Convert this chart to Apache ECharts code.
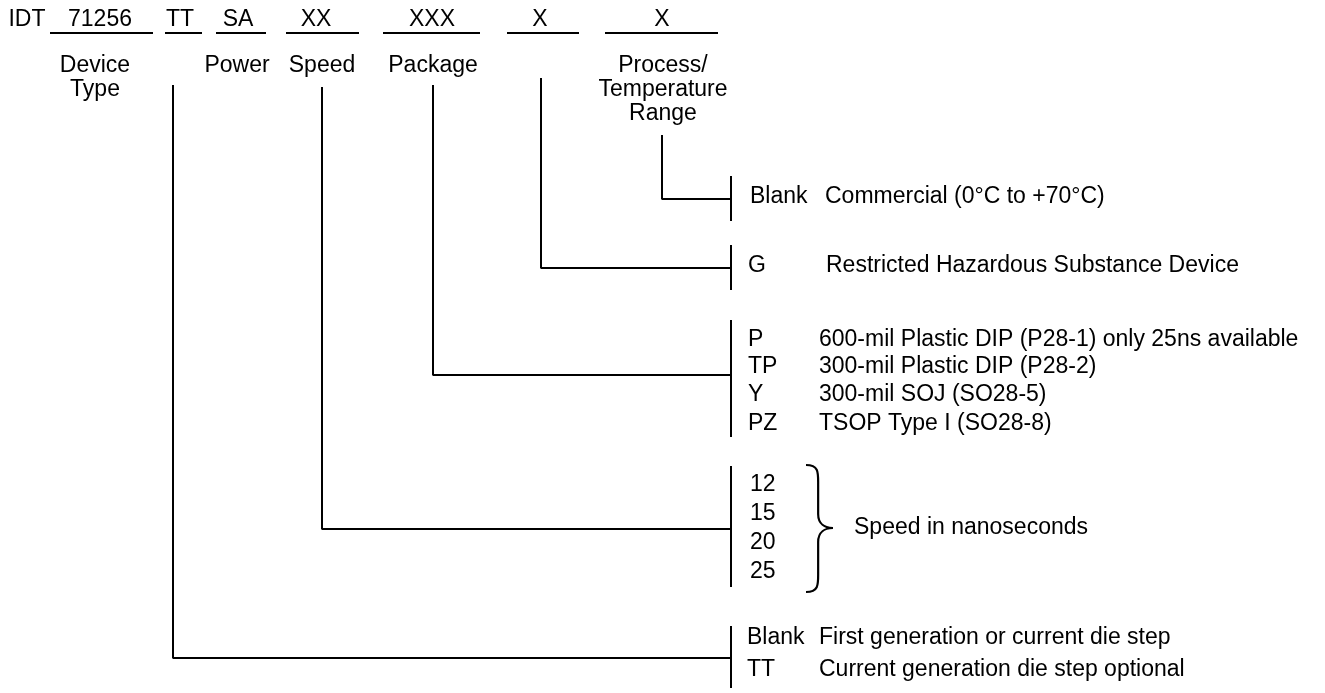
<!DOCTYPE html>
<html>
<head>
<meta charset="utf-8">
<title>IDT71256 ordering information</title>
<script src="https://cdn.jsdelivr.net/npm/echarts@6/dist/echarts.min.js"></script>
<style>
  html, body { margin: 0; padding: 0; background: #fff; }
  #chart { width: 1325px; height: 693px; }
</style>
</head>
<body>
<div id="chart"></div>
<script>
// part number fields across the top
const codeTexts = ['IDT', '71256', 'TT', 'SA', 'XX', 'XXX', 'X', 'X']
const codeX = [27, 100, 180, 238, 316, 432, 540, 662]
const codeY = 20
const underlines = [[50, 153], [165, 202], [216, 266], [286, 359], [383, 480], [507, 579], [605, 718]]
const underlineY = 33

// field names under the part number (one entry per text line)
const fieldNames = [['Device', 'Type'], ['Power'], ['Speed'], ['Package'], ['Process/', 'Temperature', 'Range']]
const fieldNameX = [95, 237, 322, 433, 663]
const fieldNameY = [66, 90, 114]

// connectors (field -> option bar)
const connectors = [
  [[173, 85], [173, 658], [731, 658]],
  [[322, 87], [322, 529], [731, 529]],
  [[433, 85], [433, 375], [731, 375]],
  [[541, 78], [541, 268], [731, 268]],
  [[662, 135], [662, 199], [731, 199]]
]
const barX = 731
const bars = [[176, 221], [245, 290], [320, 437], [466, 587], [626, 688]]

// option lists
const tempCodes = ['Blank']
const tempDesc = ['Commercial (0°C to +70°C)']
const tempY = [197]

const rohsCodes = ['G']
const rohsDesc = ['Restricted Hazardous Substance Device']
const rohsY = [266]

const pkgCodes = ['P', 'TP', 'Y', 'PZ']
const pkgDesc = ['600-mil Plastic DIP (P28-1) only 25ns available', '300-mil Plastic DIP (P28-2)', '300-mil SOJ (SO28-5)', 'TSOP Type I (SO28-8)']
const pkgY = [340, 367, 395, 424]

const speedCodes = ['12', '15', '20', '25']
const speedY = [485, 514, 543, 572]
const speedNote = 'Speed in nanoseconds'
const brace = { left: 806, right: 833, top: 465, bottom: 592, mid: 528 }

const dieCodes = ['Blank', 'TT']
const dieDesc = ['First generation or current die step', 'Current generation die step optional']
const dieY = [638, 670]

const FONT = '23px "Liberation Sans", Arial, Helvetica, sans-serif'

// text rows: [x, y, text, align]
const texts = []
codeTexts.forEach((t, i) => texts.push([codeX[i], codeY, t, 'center']))
fieldNames.forEach((lines, i) => lines.forEach((t, j) => texts.push([fieldNameX[i], fieldNameY[j], t, 'center'])))
tempCodes.forEach((t, i) => { texts.push([750, tempY[i], t, 'left']); texts.push([825, tempY[i], tempDesc[i], 'left']) })
rohsCodes.forEach((t, i) => { texts.push([748, rohsY[i], t, 'left']); texts.push([826, rohsY[i], rohsDesc[i], 'left']) })
pkgCodes.forEach((t, i) => { texts.push([748, pkgY[i], t, 'left']); texts.push([819, pkgY[i], pkgDesc[i], 'left']) })
speedCodes.forEach((t, i) => texts.push([750, speedY[i], t, 'left']))
texts.push([854, brace.mid, speedNote, 'left'])
dieCodes.forEach((t, i) => { texts.push([747, dieY[i], t, 'left']); texts.push([819, dieY[i], dieDesc[i], 'left']) })

const lineStyle = { color: '#000', width: 2 }
const segSeries = (pts) => ({
  type: 'line', data: pts, symbol: 'none', silent: true, animation: false,
  lineStyle: lineStyle
})

const series = []
underlines.forEach(u => series.push(segSeries([[u[0], underlineY], [u[1], underlineY]])))
connectors.forEach(c => series.push(segSeries(c)))
bars.forEach(b => series.push(segSeries([[barX, b[0]], [barX, b[1]]])))

series.push({
  type: 'custom', silent: true, animation: false,
  data: texts,
  renderItem(params, api) {
    const p = api.coord([api.value(0), api.value(1)])
    const d = texts[params.dataIndex]
    return {
      type: 'text', x: p[0], y: p[1],
      style: {
        text: d[2], font: FONT, fill: '#000',
        align: d[3], verticalAlign: 'middle'
      }
    }
  }
})

// curly brace for the speed options
series.push({
  type: 'custom', silent: true, animation: false,
  data: [[brace.left, brace.top, brace.right, brace.bottom, brace.mid]],
  renderItem(params, api) {
    const a = api.coord([api.value(0), api.value(1)])
    const b = api.coord([api.value(2), api.value(3)])
    const m = api.coord([api.value(2), api.value(4)])[1]
    const xl = a[0], xr = b[0], top = a[1], bot = b[1]
    const xs = xl + (xr - xl) * 0.45
    const st = { stroke: '#000', lineWidth: 2.2, fill: null }
    return {
      type: 'group',
      children: [
        { type: 'bezierCurve', shape: { x1: xl, y1: top, cpx1: xs + 1, cpy1: top, cpx2: xs, cpy2: top + 8, x2: xs, y2: top + 20 }, style: st },
        { type: 'line', shape: { x1: xs, y1: top + 20, x2: xs, y2: m - 14 }, style: st },
        { type: 'bezierCurve', shape: { x1: xs, y1: m - 14, cpx1: xs, cpy1: m - 4, cpx2: xr - 8, cpy2: m, x2: xr, y2: m }, style: st },
        { type: 'bezierCurve', shape: { x1: xr, y1: m, cpx1: xr - 8, cpy1: m, cpx2: xs, cpy2: m + 4, x2: xs, y2: m + 14 }, style: st },
        { type: 'line', shape: { x1: xs, y1: m + 14, x2: xs, y2: bot - 20 }, style: st },
        { type: 'bezierCurve', shape: { x1: xs, y1: bot - 20, cpx1: xs, cpy1: bot - 8, cpx2: xs + 1, cpy2: bot, x2: xl, y2: bot }, style: st }
      ]
    }
  }
})

const chart = echarts.init(document.getElementById('chart'))
chart.setOption({
  backgroundColor: '#fff',
  animation: false,
  grid: { left: 0, right: 0, top: 0, bottom: 0 },
  xAxis: { type: 'value', min: 0, max: 1325, show: false },
  yAxis: { type: 'value', min: 0, max: 693, inverse: true, show: false },
  series: series
})
</script>
</body>
</html>
